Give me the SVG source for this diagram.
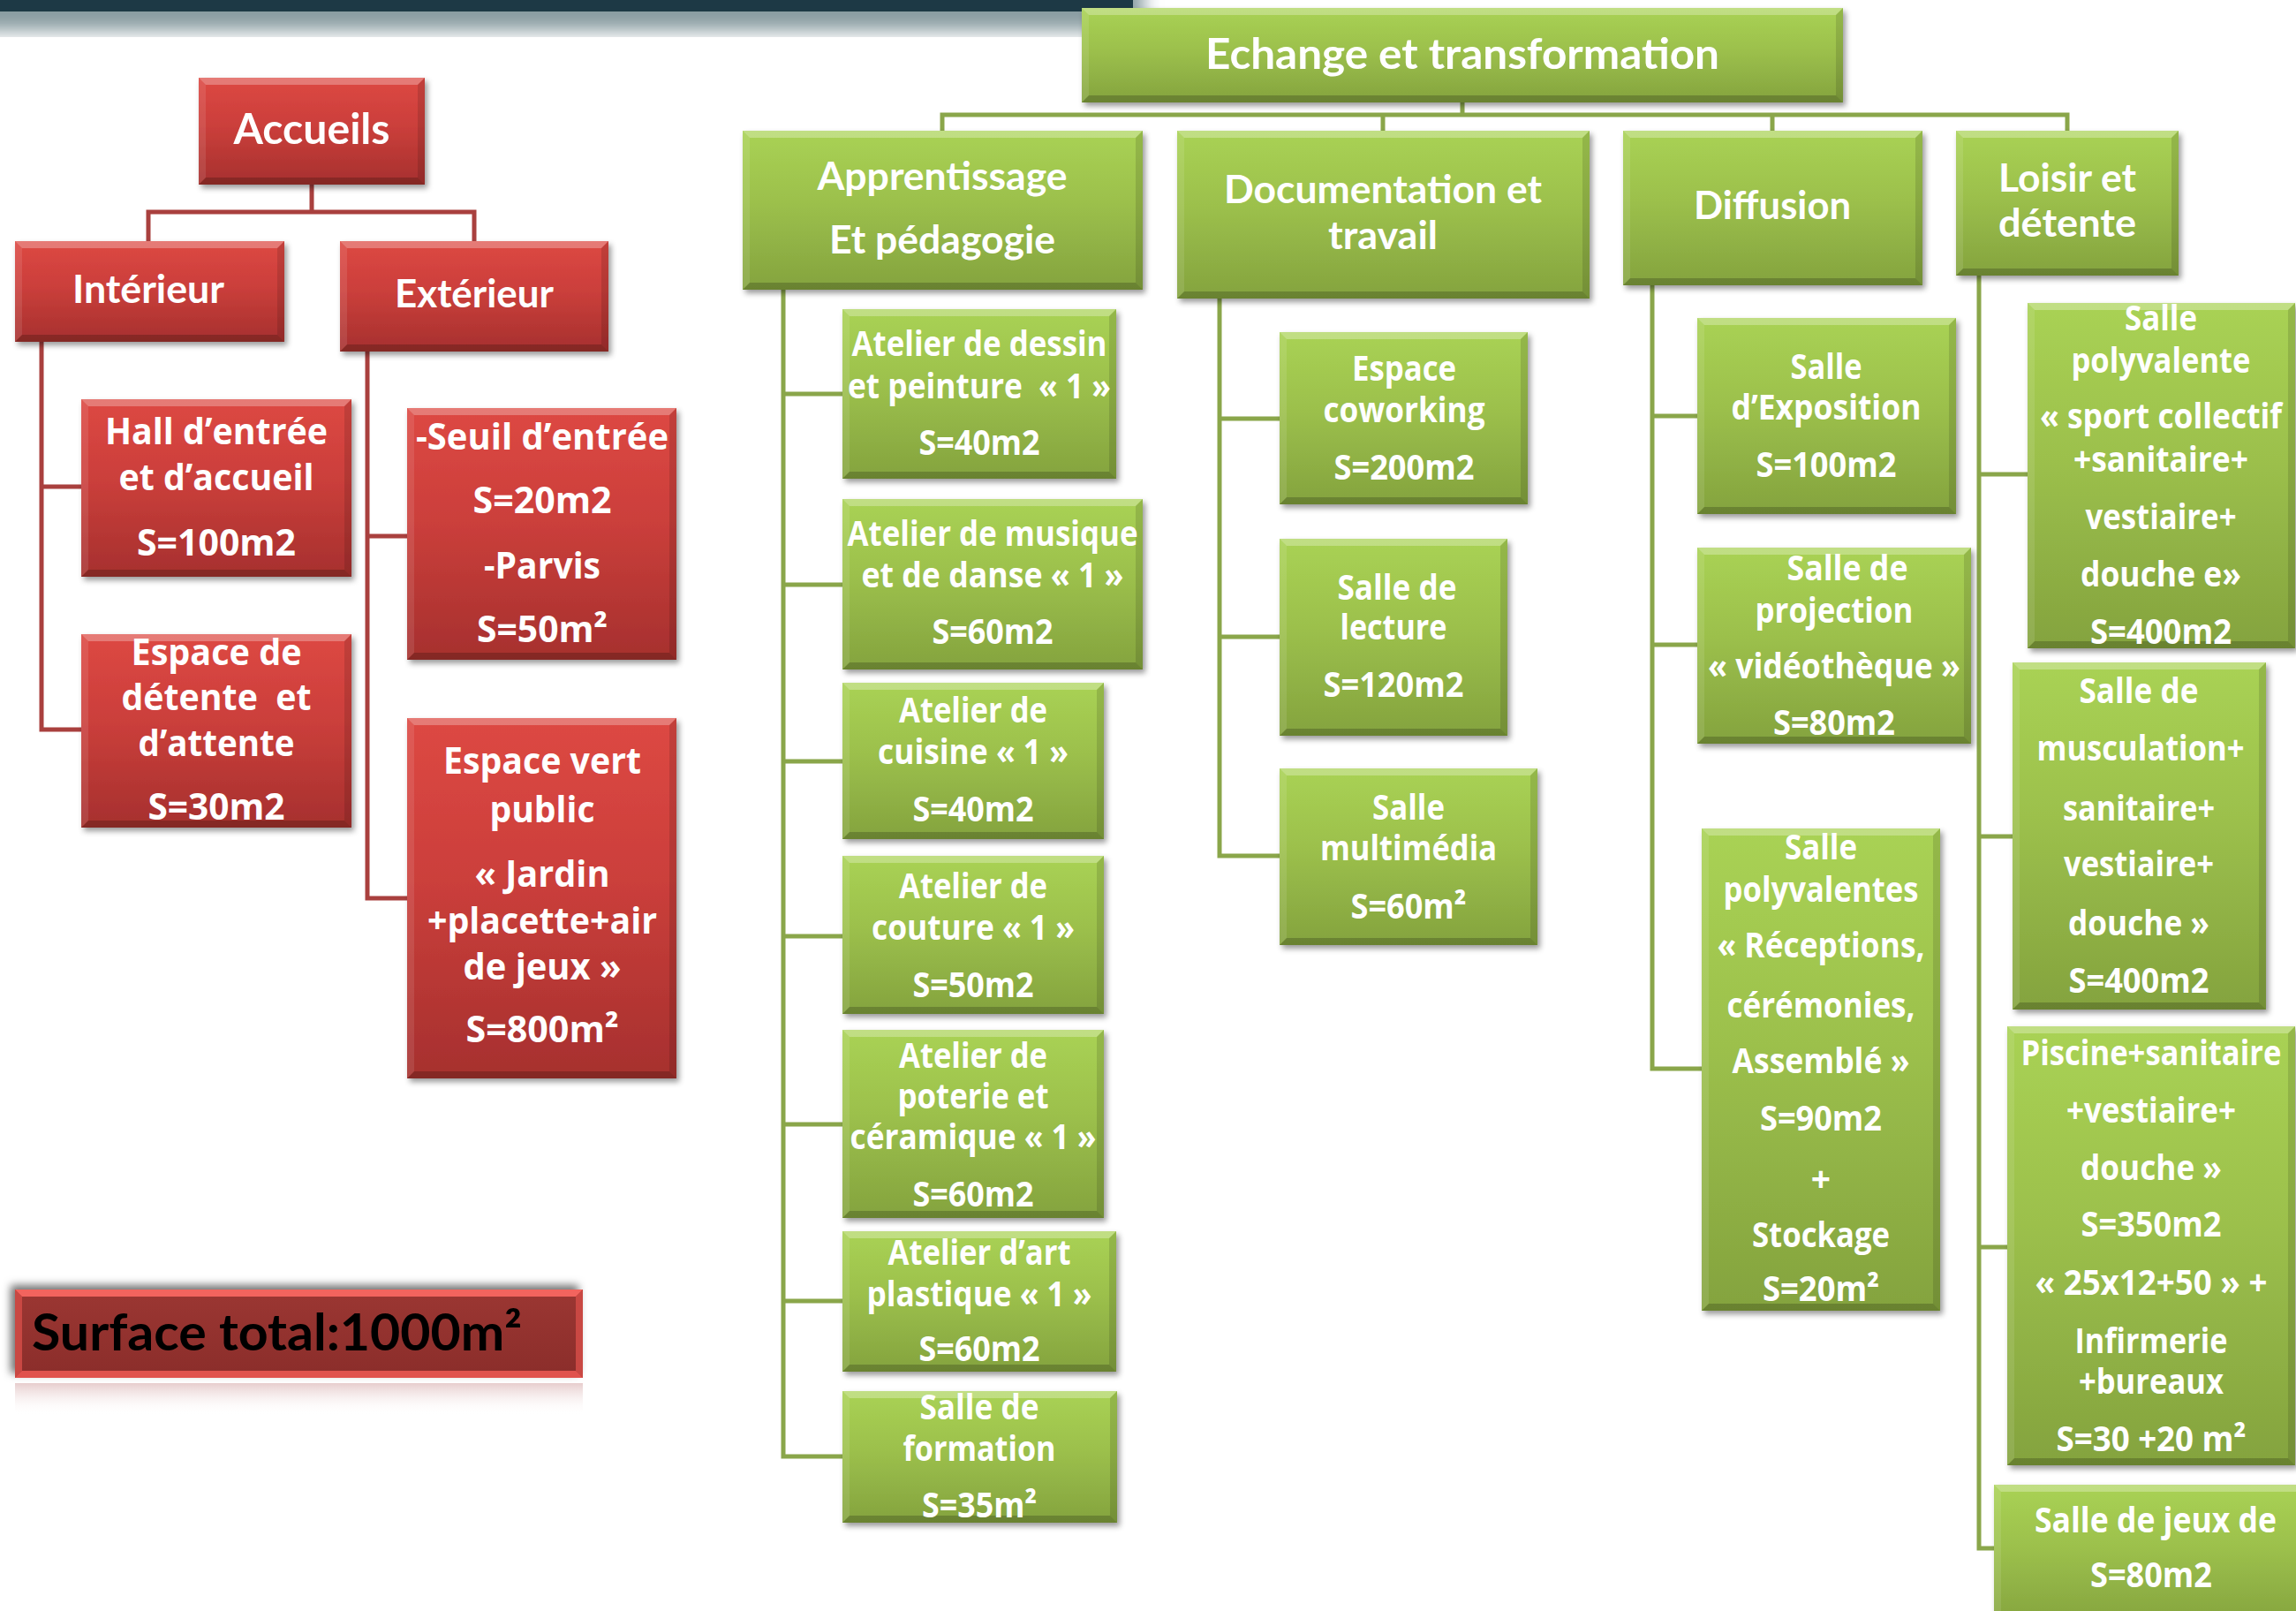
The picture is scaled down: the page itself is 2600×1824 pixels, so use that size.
<svg xmlns="http://www.w3.org/2000/svg" width="2600" height="1824" viewBox="0 0 2600 1824">
<defs>
<linearGradient id="gR" x1="0" y1="0" x2="0" y2="1"><stop offset="0" stop-color="#dd4843"/><stop offset="0.45" stop-color="#cb3f3b"/><stop offset="1" stop-color="#a6302e"/></linearGradient>
<linearGradient id="gG" x1="0" y1="0" x2="0" y2="1"><stop offset="0" stop-color="#a9d254"/><stop offset="0.45" stop-color="#9cc04c"/><stop offset="1" stop-color="#84a33e"/></linearGradient>
<linearGradient id="gT" x1="0" y1="0" x2="0" y2="1"><stop offset="0" stop-color="#9a3632"/><stop offset="1" stop-color="#8c2e2b"/></linearGradient>
<linearGradient id="gRef" x1="0" y1="0" x2="0" y2="1"><stop offset="0" stop-color="#c98f8f" stop-opacity="0.45"/><stop offset="1" stop-color="#ffffff" stop-opacity="0"/></linearGradient>
<filter id="sh" x="-10%" y="-10%" width="130%" height="130%"><feDropShadow dx="3" dy="4" stdDeviation="3" flood-color="#000" flood-opacity="0.4"/></filter>
<filter id="shTL" x="-10%" y="-30%" width="130%" height="160%"><feDropShadow dx="-5" dy="-5" stdDeviation="5" flood-color="#000" flood-opacity="0.55"/></filter>
<filter id="blur"><feGaussianBlur stdDeviation="10"/></filter>
<style>
.rb{fill:url(#gR);filter:url(#sh)}
.gb{fill:url(#gG);filter:url(#sh)}
.bt{fill:#fff;opacity:.28}
.bb{fill:#000;opacity:.2}
.bl{fill:#fff;opacity:.1}
.br{fill:#000;opacity:.12}
.t{fill:#fff;font-family:Lato,"Open Sans","Liberation Sans",sans-serif;font-weight:700;text-anchor:middle}
.tk{fill:#000;font-family:Lato,"Open Sans","Liberation Sans",sans-serif;font-weight:700;font-size:57px}
.f48{font-size:48px}.f44{font-size:44px}
.f43{font-size:42px;font-family:"Open Sans",Lato,sans-serif}
.f40{font-size:39px;font-family:"Open Sans",Lato,sans-serif}
.cr{stroke:#a9403e;stroke-width:5;fill:none;stroke-linecap:square}
.cg{stroke:#8aa64a;stroke-width:5;fill:none;stroke-linecap:square}
</style>
</defs>
<rect width="2600" height="1824" fill="#fff"/>
<g id="topbar">
<rect x="-40" y="-30" width="1335" height="65" fill="#8a9da2" filter="url(#blur)"/>
<rect x="0" y="0" width="1283" height="13" fill="#1d3945"/>
</g>
<g id="connectors">
<path class="cr" d="M353 209V240M168 240H537M168 240V273M537 240V273M47 387V826M47 551H92M47 826H92M416 398V1017M416 607H461M416 1017H461"/>
<path class="cg" d="M1656 116V130M1067 130H2341M1067 130V148M1566 130V148M2007 130V148M2341 130V148"/>
<path class="cg" d="M887 328V1649M887 446H954M887 662H954M887 862H954M887 1060H954M887 1273H954M887 1473H954M887 1649H954"/>
<path class="cg" d="M1381 338V969M1381 474H1449M1381 721H1449M1381 969H1449"/>
<path class="cg" d="M1871 323V1210M1871 471H1922M1871 730H1922M1871 1210H1927"/>
<path class="cg" d="M2241 312V1753M2241 537H2296M2241 947H2279M2241 1412H2273M2241 1753H2258"/>
</g>
<g id="accueils">
<rect class="rb" x="225" y="88" width="256" height="121"/>
<path class="bt" d="M225 88h256l-8 8h-240z"/><path class="bb" d="M225 209h256l-8-8h-240z"/><path class="bl" d="M225 88v121l8-8v-105z"/><path class="br" d="M481 88v121l-8-8v-105z"/>
<text class="t f48" x="353" y="163" textLength="177" lengthAdjust="spacingAndGlyphs">Accueils</text>
</g>
<g id="interieur">
<rect class="rb" x="17" y="273" width="305" height="114"/>
<path class="bt" d="M17 273h305l-8 8h-289z"/><path class="bb" d="M17 387h305l-8-8h-289z"/><path class="bl" d="M17 273v114l8-8v-98z"/><path class="br" d="M322 273v114l-8-8v-98z"/>
<text class="t f44" x="168" y="343" textLength="172" lengthAdjust="spacingAndGlyphs">Intérieur</text>
</g>
<g id="exterieur">
<rect class="rb" x="385" y="273" width="304" height="125"/>
<path class="bt" d="M385 273h304l-8 8h-288z"/><path class="bb" d="M385 398h304l-8-8h-288z"/><path class="bl" d="M385 273v125l8-8v-109z"/><path class="br" d="M689 273v125l-8-8v-109z"/>
<text class="t f44" x="537" y="348" textLength="180" lengthAdjust="spacingAndGlyphs">Extérieur</text>
</g>
<g id="hall">
<rect class="rb" x="92" y="452" width="306" height="201"/>
<path class="bt" d="M92 452h306l-8 8h-290z"/><path class="bb" d="M92 653h306l-8-8h-290z"/><path class="bl" d="M92 452v201l8-8v-185z"/><path class="br" d="M398 452v201l-8-8v-185z"/>
<text class="t f43" x="245" y="503" textLength="252" lengthAdjust="spacingAndGlyphs">Hall d’entrée</text>
<text class="t f43" x="245" y="555" textLength="221" lengthAdjust="spacingAndGlyphs">et d’accueil</text>
<text class="t f43" x="245" y="629" textLength="180" lengthAdjust="spacingAndGlyphs">S=100m2</text>
</g>
<g id="detente-attente">
<rect class="rb" x="92" y="718" width="306" height="219"/>
<path class="bt" d="M92 718h306l-8 8h-290z"/><path class="bb" d="M92 937h306l-8-8h-290z"/><path class="bl" d="M92 718v219l8-8v-203z"/><path class="br" d="M398 718v219l-8-8v-203z"/>
<text class="t f43" x="245" y="753" textLength="193" lengthAdjust="spacingAndGlyphs">Espace de</text>
<text class="t f43" x="245" y="804" textLength="215" lengthAdjust="spacingAndGlyphs" xml:space="preserve">détente  et</text>
<text class="t f43" x="245" y="856" textLength="177" lengthAdjust="spacingAndGlyphs">d’attente</text>
<text class="t f43" x="245" y="928" textLength="155" lengthAdjust="spacingAndGlyphs">S=30m2</text>
</g>
<g id="seuil">
<rect class="rb" x="461" y="462" width="305" height="285"/>
<path class="bt" d="M461 462h305l-8 8h-289z"/><path class="bb" d="M461 747h305l-8-8h-289z"/><path class="bl" d="M461 462v285l8-8v-269z"/><path class="br" d="M766 462v285l-8-8v-269z"/>
<text class="t f43" x="614" y="509" textLength="286" lengthAdjust="spacingAndGlyphs">-Seuil d’entrée</text>
<text class="t f43" x="614" y="581" textLength="157" lengthAdjust="spacingAndGlyphs">S=20m2</text>
<text class="t f43" x="614" y="655" textLength="132" lengthAdjust="spacingAndGlyphs">-Parvis</text>
<text class="t f43" x="614" y="727" textLength="148" lengthAdjust="spacingAndGlyphs">S=50m²</text>
</g>
<g id="espace-vert">
<rect class="rb" x="461" y="813" width="305" height="408"/>
<path class="bt" d="M461 813h305l-8 8h-289z"/><path class="bb" d="M461 1221h305l-8-8h-289z"/><path class="bl" d="M461 813v408l8-8v-392z"/><path class="br" d="M766 813v408l-8-8v-392z"/>
<text class="t f43" x="614" y="876" textLength="224" lengthAdjust="spacingAndGlyphs">Espace vert</text>
<text class="t f43" x="614" y="931" textLength="119" lengthAdjust="spacingAndGlyphs">public</text>
<text class="t f43" x="614" y="1004" textLength="153" lengthAdjust="spacingAndGlyphs">« Jardin</text>
<text class="t f43" x="614" y="1057" textLength="260" lengthAdjust="spacingAndGlyphs">+placette+air</text>
<text class="t f43" x="614" y="1109" textLength="179" lengthAdjust="spacingAndGlyphs">de jeux »</text>
<text class="t f43" x="614" y="1180" textLength="173" lengthAdjust="spacingAndGlyphs">S=800m²</text>
</g>
<g id="surface-total">
<rect x="17" y="1566" width="643" height="36" fill="url(#gRef)"/>
<rect x="17" y="1460" width="643" height="100" fill="#c8443f" filter="url(#shTL)"/>
<rect x="25" y="1468" width="627" height="84" fill="url(#gT)"/>
<path d="M17 1460h643l-8 8h-627z" fill="#f2645e"/><path d="M17 1560h643l-8-8h-627z" fill="#e0524d"/><path d="M17 1460v100l8-8v-84z" fill="#c94843"/><path d="M660 1460v100l-8-8v-84z" fill="#c94843"/>
<text class="tk" x="36" y="1529" textLength="555" lengthAdjust="spacingAndGlyphs">Surface total:1000m²</text>
</g>
<g id="echange">
<rect class="gb" x="1225" y="9" width="862" height="107"/>
<path class="bt" d="M1225 9h862l-8 8h-846z"/><path class="bb" d="M1225 116h862l-8-8h-846z"/><path class="bl" d="M1225 9v107l8-8v-91z"/><path class="br" d="M2087 9v107l-8-8v-91z"/>
<text class="t f48" x="1656" y="78" textLength="582" lengthAdjust="spacingAndGlyphs">Echange et transformation</text>
</g>
<g id="apprentissage">
<rect class="gb" x="841" y="148" width="453" height="180"/>
<path class="bt" d="M841 148h453l-8 8h-437z"/><path class="bb" d="M841 328h453l-8-8h-437z"/><path class="bl" d="M841 148v180l8-8v-164z"/><path class="br" d="M1294 148v180l-8-8v-164z"/>
<text class="t f44" x="1067" y="215" textLength="283" lengthAdjust="spacingAndGlyphs">Apprentissage</text>
<text class="t f44" x="1067" y="287" textLength="256" lengthAdjust="spacingAndGlyphs">Et pédagogie</text>
</g>
<g id="documentation">
<rect class="gb" x="1333" y="148" width="467" height="190"/>
<path class="bt" d="M1333 148h467l-8 8h-451z"/><path class="bb" d="M1333 338h467l-8-8h-451z"/><path class="bl" d="M1333 148v190l8-8v-174z"/><path class="br" d="M1800 148v190l-8-8v-174z"/>
<text class="t f44" x="1566" y="230" textLength="360" lengthAdjust="spacingAndGlyphs">Documentation et</text>
<text class="t f44" x="1566" y="282" textLength="124" lengthAdjust="spacingAndGlyphs">travail</text>
</g>
<g id="diffusion">
<rect class="gb" x="1838" y="148" width="339" height="175"/>
<path class="bt" d="M1838 148h339l-8 8h-323z"/><path class="bb" d="M1838 323h339l-8-8h-323z"/><path class="bl" d="M1838 148v175l8-8v-159z"/><path class="br" d="M2177 148v175l-8-8v-159z"/>
<text class="t f44" x="2007" y="248" textLength="178" lengthAdjust="spacingAndGlyphs">Diffusion</text>
</g>
<g id="loisir">
<rect class="gb" x="2215" y="148" width="252" height="164"/>
<path class="bt" d="M2215 148h252l-8 8h-236z"/><path class="bb" d="M2215 312h252l-8-8h-236z"/><path class="bl" d="M2215 148v164l8-8v-148z"/><path class="br" d="M2467 148v164l-8-8v-148z"/>
<text class="t f44" x="2341" y="217" textLength="156" lengthAdjust="spacingAndGlyphs">Loisir et</text>
<text class="t f44" x="2341" y="268" textLength="156" lengthAdjust="spacingAndGlyphs">détente</text>
</g>
<g id="atelier-dessin">
<rect class="gb" x="954" y="350" width="310" height="192"/>
<path class="bt" d="M954 350h310l-8 8h-294z"/><path class="bb" d="M954 542h310l-8-8h-294z"/><path class="bl" d="M954 350v192l8-8v-176z"/><path class="br" d="M1264 350v192l-8-8v-176z"/>
<text class="t f40" x="1109" y="403" textLength="289" lengthAdjust="spacingAndGlyphs">Atelier de dessin</text>
<text class="t f40" x="1109" y="451" textLength="298" lengthAdjust="spacingAndGlyphs" xml:space="preserve">et peinture  « 1 »</text>
<text class="t f40" x="1109" y="515" textLength="137" lengthAdjust="spacingAndGlyphs">S=40m2</text>
</g>
<g id="atelier-musique">
<rect class="gb" x="954" y="565" width="340" height="193"/>
<path class="bt" d="M954 565h340l-8 8h-324z"/><path class="bb" d="M954 758h340l-8-8h-324z"/><path class="bl" d="M954 565v193l8-8v-177z"/><path class="br" d="M1294 565v193l-8-8v-177z"/>
<text class="t f40" x="1124" y="618" textLength="329" lengthAdjust="spacingAndGlyphs">Atelier de musique</text>
<text class="t f40" x="1124" y="665" textLength="297" lengthAdjust="spacingAndGlyphs">et de danse « 1 »</text>
<text class="t f40" x="1124" y="729" textLength="137" lengthAdjust="spacingAndGlyphs">S=60m2</text>
</g>
<g id="atelier-cuisine">
<rect class="gb" x="954" y="773" width="296" height="177"/>
<path class="bt" d="M954 773h296l-8 8h-280z"/><path class="bb" d="M954 950h296l-8-8h-280z"/><path class="bl" d="M954 773v177l8-8v-161z"/><path class="br" d="M1250 773v177l-8-8v-161z"/>
<text class="t f40" x="1102" y="818" textLength="168" lengthAdjust="spacingAndGlyphs">Atelier de</text>
<text class="t f40" x="1102" y="865" textLength="216" lengthAdjust="spacingAndGlyphs">cuisine « 1 »</text>
<text class="t f40" x="1102" y="930" textLength="137" lengthAdjust="spacingAndGlyphs">S=40m2</text>
</g>
<g id="atelier-couture">
<rect class="gb" x="954" y="969" width="296" height="179"/>
<path class="bt" d="M954 969h296l-8 8h-280z"/><path class="bb" d="M954 1148h296l-8-8h-280z"/><path class="bl" d="M954 969v179l8-8v-163z"/><path class="br" d="M1250 969v179l-8-8v-163z"/>
<text class="t f40" x="1102" y="1017" textLength="168" lengthAdjust="spacingAndGlyphs">Atelier de</text>
<text class="t f40" x="1102" y="1064" textLength="230" lengthAdjust="spacingAndGlyphs">couture « 1 »</text>
<text class="t f40" x="1102" y="1129" textLength="137" lengthAdjust="spacingAndGlyphs">S=50m2</text>
</g>
<g id="atelier-poterie">
<rect class="gb" x="954" y="1166" width="296" height="213"/>
<path class="bt" d="M954 1166h296l-8 8h-280z"/><path class="bb" d="M954 1379h296l-8-8h-280z"/><path class="bl" d="M954 1166v213l8-8v-197z"/><path class="br" d="M1250 1166v213l-8-8v-197z"/>
<text class="t f40" x="1102" y="1209" textLength="168" lengthAdjust="spacingAndGlyphs">Atelier de</text>
<text class="t f40" x="1102" y="1255" textLength="171" lengthAdjust="spacingAndGlyphs">poterie et</text>
<text class="t f40" x="1102" y="1301" textLength="279" lengthAdjust="spacingAndGlyphs">céramique « 1 »</text>
<text class="t f40" x="1102" y="1366" textLength="137" lengthAdjust="spacingAndGlyphs">S=60m2</text>
</g>
<g id="atelier-art">
<rect class="gb" x="954" y="1394" width="310" height="159"/>
<path class="bt" d="M954 1394h310l-8 8h-294z"/><path class="bb" d="M954 1553h310l-8-8h-294z"/><path class="bl" d="M954 1394v159l8-8v-143z"/><path class="br" d="M1264 1394v159l-8-8v-143z"/>
<text class="t f40" x="1109" y="1432" textLength="207" lengthAdjust="spacingAndGlyphs">Atelier d’art</text>
<text class="t f40" x="1109" y="1479" textLength="255" lengthAdjust="spacingAndGlyphs">plastique « 1 »</text>
<text class="t f40" x="1109" y="1541" textLength="137" lengthAdjust="spacingAndGlyphs">S=60m2</text>
</g>
<g id="salle-formation">
<rect class="gb" x="954" y="1575" width="311" height="149"/>
<path class="bt" d="M954 1575h311l-8 8h-295z"/><path class="bb" d="M954 1724h311l-8-8h-295z"/><path class="bl" d="M954 1575v149l8-8v-133z"/><path class="br" d="M1265 1575v149l-8-8v-133z"/>
<text class="t f40" x="1109" y="1607" textLength="135" lengthAdjust="spacingAndGlyphs">Salle de</text>
<text class="t f40" x="1109" y="1654" textLength="173" lengthAdjust="spacingAndGlyphs">formation</text>
<text class="t f40" x="1109" y="1718" textLength="130" lengthAdjust="spacingAndGlyphs">S=35m²</text>
</g>
<g id="coworking">
<rect class="gb" x="1449" y="376" width="281" height="195"/>
<path class="bt" d="M1449 376h281l-8 8h-265z"/><path class="bb" d="M1449 571h281l-8-8h-265z"/><path class="bl" d="M1449 376v195l8-8v-179z"/><path class="br" d="M1730 376v195l-8-8v-179z"/>
<text class="t f40" x="1590" y="431" textLength="118" lengthAdjust="spacingAndGlyphs">Espace</text>
<text class="t f40" x="1590" y="478" textLength="183" lengthAdjust="spacingAndGlyphs">coworking</text>
<text class="t f40" x="1590" y="543" textLength="159" lengthAdjust="spacingAndGlyphs">S=200m2</text>
</g>
<g id="lecture">
<rect class="gb" x="1449" y="610" width="258" height="223"/>
<path class="bt" d="M1449 610h258l-8 8h-242z"/><path class="bb" d="M1449 833h258l-8-8h-242z"/><path class="bl" d="M1449 610v223l8-8v-207z"/><path class="br" d="M1707 610v223l-8-8v-207z"/>
<text class="t f40" x="1582" y="679" textLength="135" lengthAdjust="spacingAndGlyphs">Salle de</text>
<text class="t f40" x="1578" y="724" textLength="121" lengthAdjust="spacingAndGlyphs">lecture</text>
<text class="t f40" x="1578" y="789" textLength="159" lengthAdjust="spacingAndGlyphs">S=120m2</text>
</g>
<g id="multimedia">
<rect class="gb" x="1449" y="870" width="292" height="200"/>
<path class="bt" d="M1449 870h292l-8 8h-276z"/><path class="bb" d="M1449 1070h292l-8-8h-276z"/><path class="bl" d="M1449 870v200l8-8v-184z"/><path class="br" d="M1741 870v200l-8-8v-184z"/>
<text class="t f40" x="1595" y="928" textLength="82" lengthAdjust="spacingAndGlyphs">Salle</text>
<text class="t f40" x="1595" y="974" textLength="200" lengthAdjust="spacingAndGlyphs">multimédia</text>
<text class="t f40" x="1595" y="1040" textLength="131" lengthAdjust="spacingAndGlyphs">S=60m²</text>
</g>
<g id="exposition">
<rect class="gb" x="1922" y="360" width="293" height="222"/>
<path class="bt" d="M1922 360h293l-8 8h-277z"/><path class="bb" d="M1922 582h293l-8-8h-277z"/><path class="bl" d="M1922 360v222l8-8v-206z"/><path class="br" d="M2215 360v222l-8-8v-206z"/>
<text class="t f40" x="2068" y="429" textLength="81" lengthAdjust="spacingAndGlyphs">Salle</text>
<text class="t f40" x="2068" y="475" textLength="215" lengthAdjust="spacingAndGlyphs">d’Exposition</text>
<text class="t f40" x="2068" y="540" textLength="159" lengthAdjust="spacingAndGlyphs">S=100m2</text>
</g>
<g id="projection">
<rect class="gb" x="1922" y="620" width="310" height="222"/>
<path class="bt" d="M1922 620h310l-8 8h-294z"/><path class="bb" d="M1922 842h310l-8-8h-294z"/><path class="bl" d="M1922 620v222l8-8v-206z"/><path class="br" d="M2232 620v222l-8-8v-206z"/>
<text class="t f40" x="2092" y="657" textLength="137" lengthAdjust="spacingAndGlyphs">Salle de</text>
<text class="t f40" x="2077" y="705" textLength="179" lengthAdjust="spacingAndGlyphs">projection</text>
<text class="t f40" x="2077" y="768" textLength="286" lengthAdjust="spacingAndGlyphs">« vidéothèque »</text>
<text class="t f40" x="2077" y="832" textLength="138" lengthAdjust="spacingAndGlyphs">S=80m2</text>
</g>
<g id="salles-polyvalentes">
<rect class="gb" x="1927" y="938" width="270" height="546"/>
<path class="bt" d="M1927 938h270l-8 8h-254z"/><path class="bb" d="M1927 1484h270l-8-8h-254z"/><path class="bl" d="M1927 938v546l8-8v-530z"/><path class="br" d="M2197 938v546l-8-8v-530z"/>
<text class="t f40" x="2062" y="973" textLength="82" lengthAdjust="spacingAndGlyphs">Salle</text>
<text class="t f40" x="2062" y="1021" textLength="221" lengthAdjust="spacingAndGlyphs">polyvalentes</text>
<text class="t f40" x="2062" y="1084" textLength="235" lengthAdjust="spacingAndGlyphs">« Réceptions,</text>
<text class="t f40" x="2062" y="1152" textLength="213" lengthAdjust="spacingAndGlyphs">cérémonies,</text>
<text class="t f40" x="2062" y="1215" textLength="201" lengthAdjust="spacingAndGlyphs">Assemblé »</text>
<text class="t f40" x="2062" y="1280" textLength="138" lengthAdjust="spacingAndGlyphs">S=90m2</text>
<text class="t f40" x="2062" y="1349">+</text>
<text class="t f40" x="2062" y="1412" textLength="156" lengthAdjust="spacingAndGlyphs">Stockage</text>
<text class="t f40" x="2062" y="1473" textLength="132" lengthAdjust="spacingAndGlyphs">S=20m²</text>
</g>
<g id="salle-polyvalente-sport">
<rect class="gb" x="2296" y="343" width="303" height="391"/>
<path class="bt" d="M2296 343h303l-8 8h-287z"/><path class="bb" d="M2296 734h303l-8-8h-287z"/><path class="bl" d="M2296 343v391l8-8v-375z"/><path class="br" d="M2599 343v391l-8-8v-375z"/>
<text class="t f40" x="2447" y="374" textLength="82" lengthAdjust="spacingAndGlyphs">Salle</text>
<text class="t f40" x="2447" y="422" textLength="203" lengthAdjust="spacingAndGlyphs">polyvalente</text>
<text class="t f40" x="2447" y="485" textLength="274" lengthAdjust="spacingAndGlyphs">« sport collectif</text>
<text class="t f40" x="2447" y="534" textLength="198" lengthAdjust="spacingAndGlyphs">+sanitaire+</text>
<text class="t f40" x="2447" y="599" textLength="171" lengthAdjust="spacingAndGlyphs">vestiaire+</text>
<text class="t f40" x="2447" y="664" textLength="182" lengthAdjust="spacingAndGlyphs">douche e»</text>
<text class="t f40" x="2447" y="729" textLength="160" lengthAdjust="spacingAndGlyphs">S=400m2</text>
</g>
<g id="musculation">
<rect class="gb" x="2279" y="750" width="287" height="393"/>
<path class="bt" d="M2279 750h287l-8 8h-271z"/><path class="bb" d="M2279 1143h287l-8-8h-271z"/><path class="bl" d="M2279 750v393l8-8v-377z"/><path class="br" d="M2566 750v393l-8-8v-377z"/>
<text class="t f40" x="2422" y="796" textLength="135" lengthAdjust="spacingAndGlyphs">Salle de</text>
<text class="t f40" x="2424" y="861" textLength="235" lengthAdjust="spacingAndGlyphs">musculation+</text>
<text class="t f40" x="2422" y="929" textLength="172" lengthAdjust="spacingAndGlyphs">sanitaire+</text>
<text class="t f40" x="2422" y="992" textLength="170" lengthAdjust="spacingAndGlyphs">vestiaire+</text>
<text class="t f40" x="2422" y="1059" textLength="160" lengthAdjust="spacingAndGlyphs">douche »</text>
<text class="t f40" x="2422" y="1124" textLength="159" lengthAdjust="spacingAndGlyphs">S=400m2</text>
</g>
<g id="piscine">
<rect class="gb" x="2273" y="1162" width="326" height="497"/>
<path class="bt" d="M2273 1162h326l-8 8h-310z"/><path class="bb" d="M2273 1659h326l-8-8h-310z"/><path class="bl" d="M2273 1162v497l8-8v-481z"/><path class="br" d="M2599 1162v497l-8-8v-481z"/>
<text class="t f40" x="2436" y="1206" textLength="295" lengthAdjust="spacingAndGlyphs">Piscine+sanitaire</text>
<text class="t f40" x="2436" y="1271" textLength="192" lengthAdjust="spacingAndGlyphs">+vestiaire+</text>
<text class="t f40" x="2436" y="1336" textLength="160" lengthAdjust="spacingAndGlyphs">douche »</text>
<text class="t f40" x="2436" y="1400" textLength="159" lengthAdjust="spacingAndGlyphs">S=350m2</text>
<text class="t f40" x="2436" y="1466" textLength="263" lengthAdjust="spacingAndGlyphs">« 25x12+50 » +</text>
<text class="t f40" x="2436" y="1532" textLength="173" lengthAdjust="spacingAndGlyphs">Infirmerie</text>
<text class="t f40" x="2436" y="1578" textLength="164" lengthAdjust="spacingAndGlyphs">+bureaux</text>
<text class="t f40" x="2436" y="1643" textLength="215" lengthAdjust="spacingAndGlyphs">S=30 +20 m²</text>
</g>
<g id="salle-jeux">
<rect class="gb" x="2258" y="1681" width="350" height="160"/>
<path class="bt" d="M2258 1681h350l-8 8h-334z"/><path class="bl" d="M2258 1681v160l8-8v-144z"/>
<text class="t f40" x="2441" y="1735" textLength="274" lengthAdjust="spacingAndGlyphs">Salle de jeux de</text>
<text class="t f40" x="2436" y="1797" textLength="138" lengthAdjust="spacingAndGlyphs">S=80m2</text>
</g>
</svg>
